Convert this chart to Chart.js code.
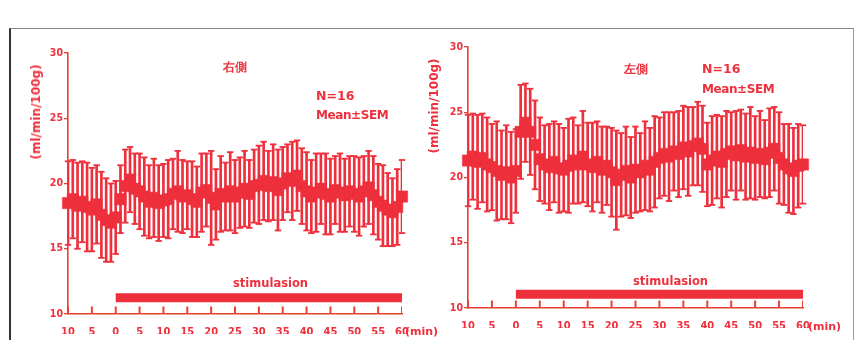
<!DOCTYPE html>
<html><head><meta charset="utf-8">
<script src="https://cdn.jsdelivr.net/npm/chart.js@4/dist/chart.umd.min.js"></script>
<style>
html,body{margin:0;padding:0;background:#fff;}
#wrap{position:relative;width:855px;height:340px;overflow:hidden;background:#fff;font-family:"DejaVu Sans",sans-serif;}
#frame{position:absolute;left:9px;top:28px;width:842px;height:330px;border-left:2px solid #333;border-top:1px solid #888;border-right:1px solid #999;}
canvas{position:absolute;top:0;}
.t{position:absolute;color:#ee2f3c;font-weight:bold;white-space:nowrap;line-height:1;}
.yt{position:absolute;color:#ee2f3c;font-weight:bold;white-space:nowrap;line-height:1;transform:translate(-50%,-50%) rotate(-90deg);font-size:12px;}
</style></head><body>
<div id="wrap">
<div id="frame"></div>
<canvas id="cL" width="430" height="340" style="left:0;width:430px;height:340px"></canvas>
<canvas id="cR" width="425" height="340" style="left:430px;width:425px;height:340px"></canvas>
<div class="t" style="left:223px;top:61px;font-size:12px;">右側</div>
<div class="t" style="left:316px;top:90px;font-size:12.5px;">N=16</div>
<div class="t" style="left:316px;top:109px;font-size:12px;letter-spacing:-0.4px;">Mean±SEM</div>
<div class="t" style="left:233px;top:278px;font-size:11.5px;">stimulasion</div>
<div class="t" style="left:405px;top:326px;font-size:11px;">(min)</div>
<div class="yt" style="left:36px;top:112px;">(ml/min/100g)</div>
<div class="t" style="left:624px;top:63px;font-size:12px;">左側</div>
<div class="t" style="left:702px;top:63px;font-size:12.5px;">N=16</div>
<div class="t" style="left:702px;top:83px;font-size:12px;letter-spacing:-0.4px;">Mean±SEM</div>
<div class="t" style="left:633px;top:276px;font-size:11.5px;">stimulasion</div>
<div class="t" style="left:808px;top:321px;font-size:11px;">(min)</div>
<div class="yt" style="left:434px;top:106px;">(ml/min/100g)</div>
</div>
<script>
// time points (min), -10 .. 60 every minute
const minutes = [];
for (let t = -10; t <= 60; t++) minutes.push(t);

// Right side (右側) mean and SEM
const rightMean = [
 18.5,18.8,18.3,18.6,18.2,18.0,18.4,17.6,17.2,17.0,17.4,
 18.8,19.8,20.3,19.6,19.4,19.0,18.6,18.9,18.5,18.7,
 18.8,19.2,19.4,19.0,19.1,18.8,18.6,19.3,19.5,18.9,
 18.4,19.2,19.0,19.4,19.0,19.3,19.6,19.2,19.8,19.9,
 20.2,19.8,20.1,19.5,20.0,20.4,20.2,20.6,19.8,19.4,
 19.0,19.3,19.6,19.2,19.0,19.5,19.3,19.1,19.4,19.2,
 19.0,19.4,19.7,19.1,18.6,18.3,18.0,17.8,18.2,19.0
];
const rightSem = [
 3.2,3.0,3.3,3.1,3.4,3.2,3.0,3.3,3.2,3.0,2.8,
 2.6,2.8,2.5,2.7,2.9,3.0,2.8,3.0,2.9,2.8,
 3.0,2.7,3.1,2.8,2.6,2.9,2.7,3.0,2.8,3.6,
 2.7,2.9,2.6,3.0,2.8,2.7,2.9,2.6,2.8,3.0,
 3.0,2.7,2.9,3.1,2.8,2.6,3.0,2.7,2.9,3.0,
 2.8,3.0,2.7,3.1,2.9,2.6,3.0,2.8,2.7,2.9,
 3.0,2.7,2.8,3.0,2.9,3.1,2.8,2.6,2.9,2.8
];
// Left side (左側) mean and SEM
const leftMean = [
 21.3,21.6,21.2,21.5,21.0,20.8,20.5,20.2,20.4,20.0,20.5,
 23.5,24.2,23.5,22.5,21.4,21.0,20.8,21.2,20.7,20.6,
 20.9,21.3,21.0,21.6,21.0,20.8,21.2,20.6,20.9,20.4,
 19.8,20.2,20.5,20.0,20.6,20.4,20.9,20.6,21.2,21.5,
 21.8,21.6,22.0,21.8,22.3,22.0,22.4,22.6,22.2,21.0,
 21.3,21.6,21.2,21.8,22.0,21.7,22.1,21.6,21.9,21.5,
 21.8,21.4,21.9,22.2,21.5,21.0,20.7,20.5,20.9,21.0
];
const leftSem = [
 3.5,3.3,3.6,3.4,3.6,3.3,3.8,3.4,3.6,3.5,3.2,
 3.6,3.0,3.3,3.4,3.2,3.0,3.3,3.1,3.4,3.2,
 3.6,3.3,3.0,3.5,3.2,3.4,3.1,3.3,3.0,3.4,
 3.8,3.2,3.4,3.1,3.3,3.0,3.4,3.2,3.5,3.1,
 3.2,3.4,3.0,3.3,3.2,3.4,3.0,3.2,3.3,3.2,
 3.4,3.2,3.5,3.3,3.0,3.4,3.1,3.3,3.5,3.2,
 3.3,3.0,3.4,3.2,3.5,3.1,3.4,3.3,3.2,3.0
];
// axis ticks
const xTickValues = [-10,-5,0,5,10,15,20,25,30,35,40,45,50,55,60];
const yTickValues = [10,15,20,25,30];
// stimulation period
const stimPeriod = [0, 60];
const stimLevelRight = 11.25;
const stimLevelLeft = 11.05;

const RED = 'rgb(238,47,60)';
const AXIS = 'rgb(232,62,48)';
const FONT = '"DejaVu Sans Condensed","DejaVu Sans",sans-serif';

function makeChart(id, mean, sem, stimLevel, pad, yW, xH) {
  const errBars = minutes.map((t,i)=>({x:t, y:[mean[i]-sem[i], mean[i]+sem[i]]}));
  const upCaps = minutes.map((t,i)=>({x:t, y:mean[i]+sem[i]}));
  const loCaps = minutes.map((t,i)=>({x:t, y:mean[i]-sem[i]}));
  const means = minutes.map((t,i)=>({x:t, y:mean[i]}));
  const tickMarks = xTickValues.map(t=>({x:t, y:[10, 10.55]}));
  const stim = stimPeriod.map(t=>({x:t, y:stimLevel}));
  return new Chart(document.getElementById(id), {
    type: 'line',
    data: { datasets: [
      {type:'line', data: means, showLine:false, pointStyle:'rect', pointRadius:8, pointBackgroundColor:RED, pointBorderColor:RED, pointBorderWidth:0.5, clip:false},
      {type:'line', data: upCaps, showLine:false, pointStyle:'line', pointRadius:3.2, pointBorderColor:RED, pointBorderWidth:1.8, clip:false},
      {type:'line', data: loCaps, showLine:false, pointStyle:'line', pointRadius:3.2, pointBorderColor:RED, pointBorderWidth:1.8, clip:false},
      {type:'bar', data: errBars, grouped:false, barThickness:2, backgroundColor:RED, borderWidth:0},
      {type:'line', data: stim, borderColor:RED, borderWidth:9, pointRadius:0, borderCapStyle:'butt', clip:false},
      {type:'bar', data: tickMarks, grouped:false, barThickness:1.3, backgroundColor:AXIS, borderWidth:0}
    ]},
    options: {
      responsive:false, animation:false, devicePixelRatio:1,
      layout:{padding:pad},
      plugins:{legend:{display:false}, tooltip:{enabled:false}},
      scales:{
        x:{type:'linear', min:-10, max:60, offset:false,
           afterBuildTicks: s=>{ s.ticks = xTickValues.map(v=>({value:v})); },
           afterFit: s=>{ s.height = xH; },
           grid:{display:false, drawTicks:false},
           border:{display:true, color:AXIS, width:1.6},
           ticks:{color:RED, padding:12, autoSkip:false, maxRotation:0,
                  font:{family:FONT, size:11, weight:'bold'},
                  callback:v=>String(Math.abs(v))}},
        y:{type:'linear', min:10, max:30,
           afterBuildTicks: s=>{ s.ticks = yTickValues.map(v=>({value:v})); },
           afterFit: s=>{ s.width = yW; },
           grid:{drawOnChartArea:false, drawTicks:true, tickLength:4, color:AXIS, lineWidth:1.3},
           border:{display:true, color:AXIS, width:1.6},
           ticks:{color:RED, padding:1,
                  font:{family:FONT, size:10.5, weight:'bold'}}}
      }
    }
  });
}
makeChart('cL', rightMean, rightSem, stimLevelRight, {left:40, right:28, top:53, bottom:6}, 28, 20);
makeChart('cR', leftMean, leftSem, stimLevelLeft, {left:10, right:52, top:47, bottom:12}, 28, 20);
</script>
</body></html>
